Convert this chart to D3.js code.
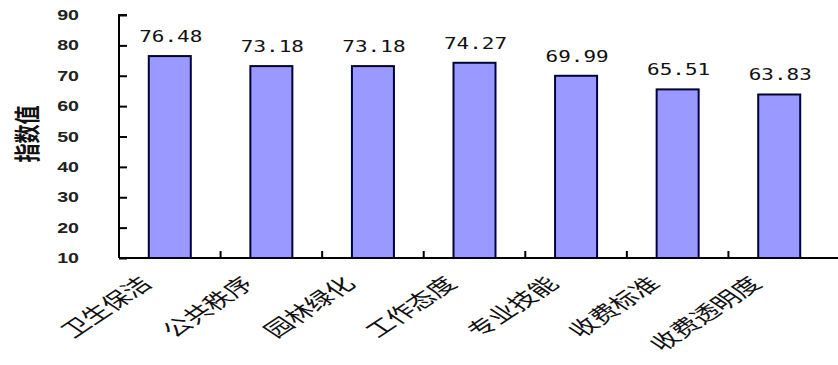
<!DOCTYPE html>
<html>
<head>
<meta charset="utf-8">
<script src="https://cdn.jsdelivr.net/npm/d3@7"></script>
<style>
  html, body { margin: 0; padding: 0; background: #fff; }
  svg { display: block; }
</style>
</head>
<body>
<svg id="chart" width="838" height="365"></svg>
<script>
// Satisfaction index per service item
const categories = ["卫生保洁", "公共秩序", "园林绿化", "工作态度", "专业技能", "收费标准", "收费透明度"];
const values = [76.48, 73.18, 73.18, 74.27, 69.99, 65.51, 63.83];
const yTicks = [10, 20, 30, 40, 50, 60, 70, 80, 90];
const yTitle = "指数值";

(function draw() {
  const W = 838;
  const m = { left: 119, right: 830, top: 15, bottom: 258 };
  const sx = 1.4; // horizontal stretch of the text glyphs

  const svg = d3.select("#chart");

  const x = d3.scaleBand().domain(categories).range([m.left, m.right]).paddingInner(0).paddingOuter(0);
  const y = d3.scaleLinear().domain([10, 90]).range([m.bottom, m.top]);

  // bars
  const barW = 42;
  svg.append("g").selectAll("rect").data(values).join("rect")
    .attr("x", (d, i) => x(categories[i]) + x.bandwidth() / 2 - barW / 2)
    .attr("y", d => y(d))
    .attr("width", barW)
    .attr("height", d => y(10) - y(d))
    .attr("fill", "#9999ff")
    .attr("stroke", "#000040")
    .attr("stroke-width", 2);

  // value labels
  svg.append("g").selectAll("text").data(values).join("text")
    .attr("transform", (d, i) => `translate(${x(categories[i]) + x.bandwidth() / 2 + 1},${y(d) - 14}) scale(${sx},1)`)
    .attr("text-anchor", "middle")
    .attr("font-family", "DejaVu Sans Mono, monospace")
    .attr("font-size", 15)
    .attr("fill", "#111")
    .text(d => d.toFixed(2));

  // y axis
  const yAxis = d3.axisRight(y).tickValues(yTicks).tickSize(8).tickFormat("");
  const gy = svg.append("g").attr("transform", `translate(${m.left},0)`).call(yAxis);
  gy.select(".domain").attr("stroke", "#000").attr("stroke-width", 2).attr("d", `M8,${m.top}H0V${m.bottom}`);
  gy.selectAll(".tick line").attr("stroke", "#000").attr("stroke-width", 2);

  // y tick labels
  svg.append("g").selectAll("text").data(yTicks).join("text")
    .attr("transform", d => `translate(79,${y(d) + 5}) scale(${sx},1)`)
    .attr("text-anchor", "end")
    .attr("font-family", "Liberation Sans, Arial, sans-serif")
    .attr("font-weight", "bold")
    .attr("font-size", 14)
    .attr("fill", "#222")
    .text(d => d);

  // x axis
  const xAxis = d3.axisTop(x).tickSize(0).tickFormat("");
  const gx = svg.append("g").attr("transform", `translate(0,${m.bottom})`).call(xAxis);
  gx.select(".domain").attr("stroke", "#000").attr("stroke-width", 2).attr("d", `M${m.left},0H${W}`);
  // boundary ticks between categories, pointing up
  svg.append("g").selectAll("line").data(categories.slice(1)).join("line")
    .attr("x1", d => x(d)).attr("x2", d => x(d))
    .attr("y1", m.bottom).attr("y2", m.bottom - 7)
    .attr("stroke", "#000").attr("stroke-width", 2);

  // category labels, rotated
  svg.append("g").selectAll("text").data(categories).join("text")
    .attr("transform", d => `translate(${x(d) + x.bandwidth() / 2 - 16},${m.bottom + 27}) scale(1.5,1) rotate(-45)`)
    .attr("text-anchor", "end")
    .attr("font-family", "Noto Sans CJK SC, sans-serif")
    .attr("font-size", 19)
    .attr("fill", "#111")
    .text(d => d);

  // y axis title, rotated to read bottom-to-top
  svg.append("text")
    .attr("transform", `translate(25,134) scale(${sx},1) rotate(-90)`)
    .attr("text-anchor", "middle")
    .attr("dominant-baseline", "central")
    .attr("font-family", "Noto Sans CJK SC, sans-serif")
    .attr("font-weight", "bold")
    .attr("font-size", 19)
    .attr("fill", "#111")
    .text(yTitle);
})();
</script>
</body>
</html>
